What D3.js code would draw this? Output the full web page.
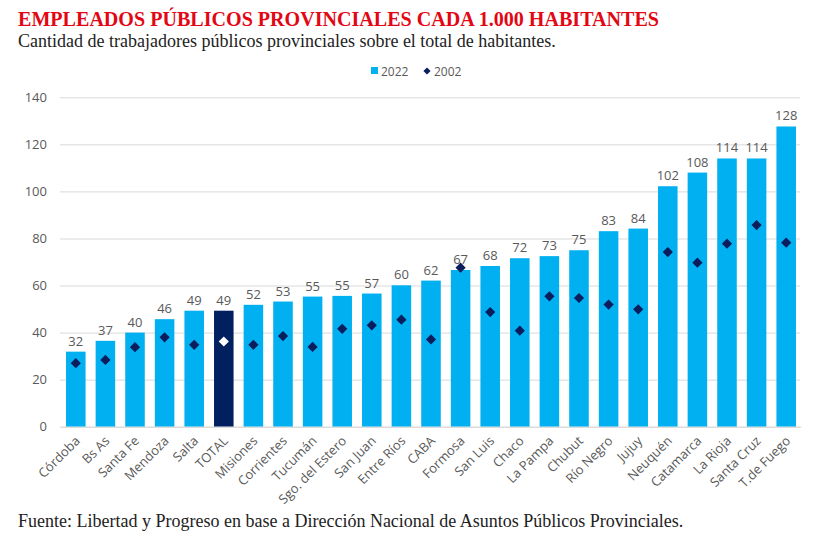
<!DOCTYPE html>
<html><head><meta charset="utf-8">
<script src="https://cdn.jsdelivr.net/npm/d3@7"></script>
<style>
body{margin:0;background:#fff;}
svg{display:block;}
</style></head>
<body>
<svg id="chart" width="835" height="545"></svg>
<script>
const categories = ["Córdoba","Bs As","Santa Fe","Mendoza","Salta","TOTAL","Misiones","Corrientes","Tucumán","Sgo. del Estero","San Juan","Entre Ríos","CABA","Formosa","San Luis","Chaco","La Pampa","Chubut","Río Negro","Jujuy","Neuquén","Catamarca","La Rioja","Santa Cruz","T.de Fuego"];
const values2022 = [31.9,36.5,40.0,45.7,49.3,49.3,51.8,53.2,55.3,55.6,56.6,60.1,62.1,66.6,68.3,71.6,72.5,75.0,83.1,84.2,102.2,108.0,114.0,114.0,127.6];
const labels2022 = [32,37,40,46,49,49,52,53,55,55,57,60,62,67,68,72,73,75,83,84,102,108,114,114,128];
const values2002 = [27.0,28.4,33.8,38.0,34.8,36.2,34.8,38.5,33.9,41.6,43.1,45.5,37.1,67.6,48.7,40.8,55.4,54.7,51.9,49.9,74.2,69.7,77.8,85.7,78.2];
const yTicks = [0,20,40,60,80,100,120,140];
const seriesNames = ["2022","2002"];

const svg = d3.select("#chart");
const x = d3.scaleBand().domain(categories).range([61, 801]).paddingInner(0.34).paddingOuter(0.17);
const y = d3.scaleLinear().domain([0,140]).range([426.7, 97.3]);

const barColor = "#00B0F0", totalColor = "#002060", dColor = "#0B1D5C";
const gray = "#595959";
const sans = "'Open Sans', 'Noto Sans', sans-serif";
const serif = "'Liberation Serif', 'Times New Roman', serif";

// title
svg.append("text").attr("x",18).attr("y",26).attr("font-family",serif).attr("font-weight","bold")
  .attr("font-size",21).attr("fill","#E30613").attr("textLength",641).attr("lengthAdjust","spacingAndGlyphs")
  .text("EMPLEADOS PÚBLICOS PROVINCIALES CADA 1.000 HABITANTES");
svg.append("text").attr("x",18).attr("y",47).attr("font-family",serif)
  .attr("font-size",18).attr("fill","#222")
  .text("Cantidad de trabajadores públicos provinciales sobre el total de habitantes.");
svg.append("text").attr("x",18).attr("y",527).attr("font-family",serif)
  .attr("font-size",18).attr("fill","#222")
  .text("Fuente: Libertad y Progreso en base a Dirección Nacional de Asuntos Públicos Provinciales.");

// legend
const lg = svg.append("g").attr("font-family",sans).attr("font-size",12).attr("fill",gray);
lg.append("rect").attr("x",371).attr("y",67).attr("width",7).attr("height",7).attr("fill",barColor);
lg.append("text").attr("x",381).attr("y",75.5).text(seriesNames[0]);
lg.append("path").attr("d",d3.symbol(d3.symbolSquare,26)()).attr("transform","translate(427,71) rotate(45)").attr("fill",dColor);
lg.append("text").attr("x",434).attr("y",75.5).text(seriesNames[1]);

// grid
const yAxis = d3.axisLeft(y).tickValues(yTicks).tickSize(-(800-60)).tickPadding(13);
const ga = svg.append("g").attr("transform","translate(60,0)").call(yAxis);
ga.select(".domain").remove();
ga.selectAll(".tick line").attr("stroke","#D9D9D9").attr("stroke-width",1);
ga.selectAll(".tick text").attr("font-family",sans).attr("font-size",13).attr("fill",gray);

// bars
svg.append("g").selectAll("rect").data(categories).join("rect")
  .attr("x",d=>x(d)).attr("width",x.bandwidth())
  .attr("y",(d,i)=>y(values2022[i])).attr("height",(d,i)=>y(0)-y(values2022[i]))
  .attr("fill",d=>d==="TOTAL"?totalColor:barColor);

// data labels
svg.append("g").selectAll("text").data(categories).join("text")
  .attr("x",d=>x(d)+x.bandwidth()/2).attr("y",(d,i)=>y(values2022[i])-6)
  .attr("text-anchor","middle").attr("font-family",sans).attr("font-size",13).attr("fill",gray)
  .text((d,i)=>labels2022[i]);

// diamonds
svg.append("g").selectAll("path").data(categories).join("path")
  .attr("d",d3.symbol(d3.symbolSquare,52)())
  .attr("transform",(d,i)=>`translate(${x(d)+x.bandwidth()/2},${y(values2002[i])}) rotate(45)`)
  .attr("fill",d=>d==="TOTAL"?"#FFFFFF":dColor);

// x labels
const xAxis = d3.axisBottom(x).tickSize(0).tickPadding(0);
const gx = svg.append("g").attr("transform",`translate(0,${y(0)})`).call(xAxis);
gx.select(".domain").attr("stroke","#D9D9D9");
gx.selectAll(".tick text").attr("font-family",sans).attr("font-size",13).attr("fill",gray)
  .attr("text-anchor","end").attr("dy",0).attr("y",0)
  .attr("transform","translate(5,15) rotate(-45)");
</script>
</body></html>
